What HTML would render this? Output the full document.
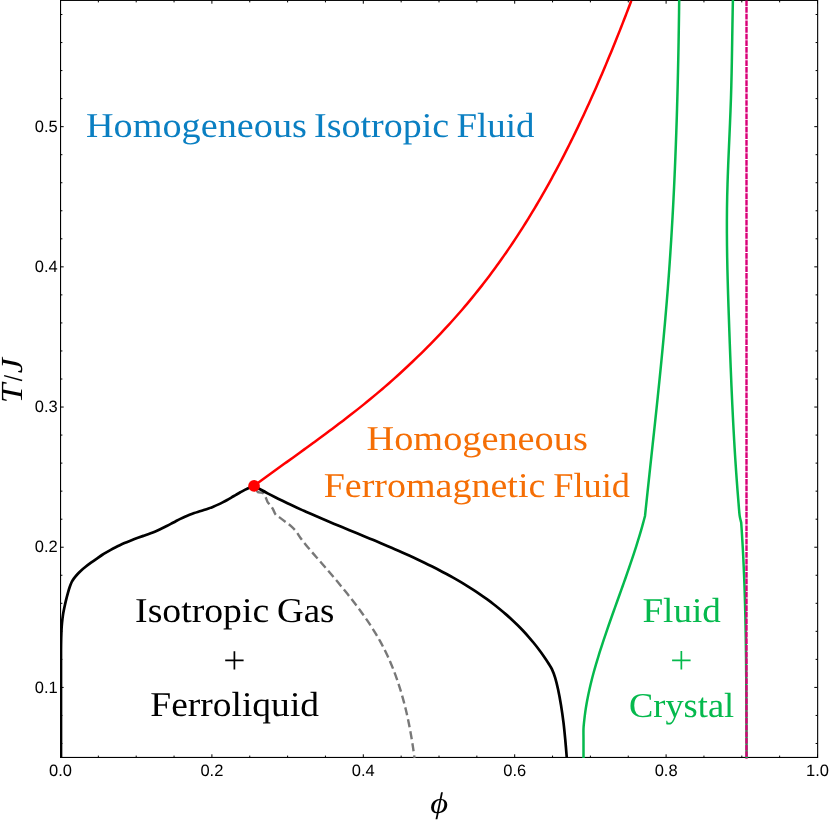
<!DOCTYPE html>
<html><head><meta charset="utf-8"><title>Phase diagram</title>
<style>
html,body{margin:0;padding:0;background:#fff;}
body{width:830px;height:822px;overflow:hidden;font-family:"Liberation Sans",sans-serif;}
svg{display:block;will-change:transform;text-rendering:geometricPrecision;}
</style></head><body>
<svg width="830" height="822" viewBox="0 0 830 822">
<rect width="830" height="822" fill="#fff"/>
<defs><clipPath id="cp"><rect x="60" y="0" width="758.6" height="758.7"/></clipPath></defs>
<g stroke="#000" stroke-width="1" fill="none" shape-rendering="auto">
<rect x="60.55" y="0.4" width="757.1" height="757.05" stroke-width="1.1"/>
<path d="M60.50,757.5v-3.2M60.50,0.5v3.2M98.35,757.5v-1.9M98.35,0.5v1.9M136.20,757.5v-1.9M136.20,0.5v1.9M174.05,757.5v-1.9M174.05,0.5v1.9M211.90,757.5v-3.2M211.90,0.5v3.2M249.75,757.5v-1.9M249.75,0.5v1.9M287.60,757.5v-1.9M287.60,0.5v1.9M325.45,757.5v-1.9M325.45,0.5v1.9M363.30,757.5v-3.2M363.30,0.5v3.2M401.15,757.5v-1.9M401.15,0.5v1.9M439.00,757.5v-1.9M439.00,0.5v1.9M476.85,757.5v-1.9M476.85,0.5v1.9M514.70,757.5v-3.2M514.70,0.5v3.2M552.55,757.5v-1.9M552.55,0.5v1.9M590.40,757.5v-1.9M590.40,0.5v1.9M628.25,757.5v-1.9M628.25,0.5v1.9M666.10,757.5v-3.2M666.10,0.5v3.2M703.95,757.5v-1.9M703.95,0.5v1.9M741.80,757.5v-1.9M741.80,0.5v1.9M779.65,757.5v-1.9M779.65,0.5v1.9M817.50,757.5v-3.2M817.50,0.5v3.2M60.5,743.48h1.9M817.5,743.48h-1.9M60.5,715.44h1.9M817.5,715.44h-1.9M60.5,687.41h3.2M817.5,687.41h-3.2M60.5,659.37h1.9M817.5,659.37h-1.9M60.5,631.33h1.9M817.5,631.33h-1.9M60.5,603.30h1.9M817.5,603.30h-1.9M60.5,575.26h1.9M817.5,575.26h-1.9M60.5,547.22h3.2M817.5,547.22h-3.2M60.5,519.19h1.9M817.5,519.19h-1.9M60.5,491.15h1.9M817.5,491.15h-1.9M60.5,463.11h1.9M817.5,463.11h-1.9M60.5,435.07h1.9M817.5,435.07h-1.9M60.5,407.04h3.2M817.5,407.04h-3.2M60.5,379.00h1.9M817.5,379.00h-1.9M60.5,350.96h1.9M817.5,350.96h-1.9M60.5,322.93h1.9M817.5,322.93h-1.9M60.5,294.89h1.9M817.5,294.89h-1.9M60.5,266.85h3.2M817.5,266.85h-3.2M60.5,238.81h1.9M817.5,238.81h-1.9M60.5,210.78h1.9M817.5,210.78h-1.9M60.5,182.74h1.9M817.5,182.74h-1.9M60.5,154.70h1.9M817.5,154.70h-1.9M60.5,126.67h3.2M817.5,126.67h-3.2M60.5,98.63h1.9M817.5,98.63h-1.9M60.5,70.59h1.9M817.5,70.59h-1.9M60.5,42.56h1.9M817.5,42.56h-1.9M60.5,14.52h1.9M817.5,14.52h-1.9"/>
</g>
<g fill="none" stroke-linejoin="round" clip-path="url(#cp)">
<path d="M254.05,485.90C254.62,486.85 256.51,490.50 257.50,491.60C258.49,492.70 259.18,492.28 260.00,492.50C260.82,492.72 261.68,492.62 262.40,492.90C263.12,493.18 263.77,493.52 264.30,494.20C264.83,494.88 265.22,496.10 265.60,497.00C265.98,497.90 266.23,498.72 266.60,499.60C266.97,500.48 267.12,501.28 267.80,502.30C268.48,503.32 269.80,504.48 270.70,505.70C271.60,506.92 272.38,508.13 273.20,509.60C274.02,511.07 274.55,513.20 275.60,514.50C276.65,515.80 277.88,516.18 279.50,517.40C281.12,518.62 283.47,520.43 285.30,521.80C287.13,523.17 288.70,524.00 290.50,525.60C292.30,527.20 294.46,529.38 296.10,531.40C297.74,533.42 298.83,535.60 300.33,537.70C301.84,539.79 303.47,541.88 305.14,543.97C306.80,546.06 308.57,548.14 310.34,550.22C312.11,552.31 313.95,554.39 315.77,556.47C317.59,558.55 319.43,560.64 321.25,562.72C323.07,564.81 324.88,566.89 326.68,568.98C328.48,571.08 330.27,573.17 332.05,575.27C333.83,577.37 335.60,579.47 337.36,581.58C339.12,583.70 340.86,585.81 342.60,587.94C344.34,590.07 346.06,592.20 347.77,594.35C349.48,596.49 351.18,598.65 352.86,600.81C354.54,602.98 356.21,605.16 357.85,607.35C359.48,609.54 361.10,611.75 362.69,613.96C364.28,616.18 365.85,618.42 367.38,620.67C368.91,622.92 370.42,625.19 371.88,627.47C373.35,629.76 374.78,632.06 376.17,634.38C377.56,636.70 378.91,639.05 380.22,641.41C381.53,643.77 382.79,646.16 384.01,648.56C385.23,650.97 386.40,653.39 387.53,655.84C388.66,658.28 389.75,660.75 390.80,663.23C391.86,665.71 392.86,668.21 393.84,670.73C394.81,673.24 395.74,675.78 396.64,678.33C397.54,680.87 398.40,683.44 399.23,686.01C400.05,688.59 400.84,691.18 401.60,693.79C402.36,696.39 403.09,699.01 403.79,701.63C404.48,704.26 405.15,706.90 405.78,709.55C406.42,712.20 407.03,714.85 407.61,717.52C408.19,720.19 408.74,722.86 409.27,725.55C409.79,728.23 410.30,730.92 410.77,733.61C411.25,736.31 411.71,739.01 412.14,741.72C412.58,744.42 412.99,747.14 413.38,749.85C413.77,752.56 414.31,756.64 414.50,758.00" stroke="#787878" stroke-width="2.4" stroke-dasharray="8.2 4" stroke-dashoffset="7.0"/>
<path d="M583.50,758.00C583.50,755.00 583.50,744.87 583.50,740.00C583.50,735.13 583.38,732.04 583.50,728.80C583.62,725.56 583.93,723.31 584.22,720.58C584.51,717.84 584.84,715.12 585.22,712.41C585.60,709.69 586.03,706.99 586.49,704.29C586.95,701.60 587.46,698.91 588.00,696.23C588.54,693.55 589.12,690.87 589.72,688.21C590.33,685.54 590.97,682.88 591.64,680.23C592.31,677.58 593.01,674.93 593.73,672.29C594.46,669.65 595.21,667.02 595.98,664.39C596.74,661.76 597.54,659.14 598.34,656.52C599.15,653.90 599.98,651.28 600.82,648.67C601.65,646.06 602.51,643.46 603.37,640.85C604.24,638.25 605.11,635.65 606.00,633.05C606.88,630.45 607.78,627.86 608.68,625.27C609.58,622.67 610.49,620.09 611.41,617.50C612.32,614.91 613.24,612.32 614.17,609.74C615.09,607.15 616.02,604.56 616.94,601.98C617.87,599.39 618.80,596.81 619.73,594.23C620.65,591.64 621.58,589.06 622.50,586.47C623.42,583.88 624.34,581.30 625.26,578.71C626.17,576.12 627.08,573.53 627.98,570.94C628.88,568.35 629.77,565.76 630.65,563.16C631.53,560.56 632.41,557.96 633.27,555.36C634.13,552.76 634.98,550.15 635.81,547.54C636.64,544.93 637.46,542.32 638.27,539.70C639.07,537.08 639.86,534.46 640.63,531.83C641.39,529.21 642.15,526.57 642.88,523.93C643.60,521.29 644.65,517.32 645.00,516.00C645.21,514.01 645.84,508.03 646.26,504.04C646.68,500.06 647.11,496.07 647.53,492.09C647.96,488.10 648.39,484.11 648.82,480.13C649.25,476.14 649.68,472.15 650.11,468.16C650.54,464.18 650.97,460.19 651.41,456.20C651.84,452.21 652.27,448.22 652.70,444.23C653.13,440.24 653.56,436.26 653.99,432.27C654.42,428.28 654.85,424.29 655.28,420.30C655.70,416.30 656.13,412.31 656.55,408.32C656.97,404.33 657.39,400.34 657.81,396.35C658.22,392.36 658.63,388.36 659.04,384.37C659.45,380.38 659.86,376.39 660.26,372.39C660.66,368.40 661.06,364.41 661.45,360.41C661.84,356.42 662.23,352.42 662.61,348.43C662.99,344.43 663.36,340.44 663.73,336.44C664.10,332.45 664.46,328.45 664.82,324.46C665.17,320.46 665.52,316.47 665.86,312.47C666.20,308.47 666.54,304.47 666.86,300.48C667.19,296.48 667.51,292.48 667.82,288.48C668.13,284.49 668.43,280.49 668.72,276.49C669.01,272.49 669.30,268.49 669.58,264.49C669.86,260.49 670.13,256.49 670.39,252.49C670.65,248.49 670.91,244.49 671.16,240.49C671.41,236.49 671.65,232.49 671.88,228.49C672.12,224.48 672.35,220.48 672.57,216.48C672.79,212.48 673.00,208.47 673.21,204.47C673.42,200.47 673.62,196.46 673.81,192.46C674.01,188.46 674.20,184.45 674.38,180.45C674.56,176.44 674.74,172.44 674.91,168.43C675.08,164.43 675.24,160.42 675.40,156.42C675.56,152.41 675.72,148.40 675.86,144.40C676.01,140.39 676.15,136.38 676.29,132.38C676.43,128.37 676.56,124.36 676.69,120.35C676.81,116.35 676.94,112.34 677.05,108.33C677.17,104.32 677.28,100.31 677.39,96.30C677.50,92.29 677.60,88.28 677.70,84.27C677.80,80.26 677.89,76.25 677.98,72.24C678.07,68.23 678.16,64.22 678.24,60.20C678.32,56.19 678.40,52.18 678.48,48.17C678.55,44.16 678.62,40.14 678.69,36.13C678.75,32.12 678.82,28.10 678.88,24.09C678.94,20.07 678.99,16.06 679.05,12.05C679.10,8.03 679.17,2.01 679.20,-0.00" stroke="#05B94D" stroke-width="2.5"/>
<path d="M746.60,758.00C746.59,756.29 746.56,751.18 746.55,747.76C746.53,744.35 746.52,740.94 746.50,737.53C746.49,734.11 746.48,730.70 746.47,727.29C746.45,723.87 746.44,720.46 746.43,717.05C746.41,713.64 746.40,710.22 746.38,706.81C746.37,703.40 746.35,699.98 746.34,696.57C746.32,693.15 746.30,689.74 746.28,686.33C746.26,682.91 746.23,679.50 746.21,676.09C746.18,672.67 746.15,669.26 746.12,665.85C746.09,662.43 746.05,659.02 746.01,655.61C745.97,652.19 745.93,648.78 745.88,645.37C745.83,641.95 745.78,638.54 745.72,635.13C745.66,631.71 745.60,628.30 745.53,624.89C745.46,621.48 745.39,618.06 745.31,614.65C745.23,611.24 745.14,607.83 745.05,604.42C744.95,601.00 744.85,597.59 744.74,594.18C744.64,590.77 744.52,587.36 744.40,583.95C744.28,580.54 744.15,577.13 744.01,573.72C743.87,570.31 743.72,566.90 743.56,563.49C743.40,560.08 743.24,556.67 743.06,553.26C742.88,549.85 742.70,546.45 742.50,543.04C742.31,539.63 742.10,536.22 741.88,532.82C741.67,529.41 741.31,524.30 741.20,522.60C740.93,521.38 740.04,518.56 739.60,515.30C739.16,512.04 738.88,507.14 738.54,503.06C738.20,498.97 737.87,494.89 737.55,490.81C737.23,486.73 736.93,482.64 736.63,478.56C736.34,474.48 736.05,470.39 735.78,466.31C735.50,462.23 735.24,458.14 734.98,454.06C734.73,449.97 734.48,445.89 734.25,441.80C734.01,437.72 733.78,433.63 733.56,429.54C733.34,425.46 733.12,421.37 732.92,417.29C732.71,413.20 732.51,409.11 732.32,405.02C732.12,400.94 731.94,396.85 731.76,392.76C731.57,388.67 731.40,384.59 731.23,380.50C731.06,376.41 730.89,372.32 730.73,368.23C730.56,364.14 730.41,360.05 730.25,355.97C730.09,351.88 729.94,347.79 729.79,343.70C729.64,339.61 729.50,335.52 729.35,331.43C729.20,327.34 729.06,323.25 728.92,319.16C728.78,315.07 728.63,310.98 728.50,306.89C728.36,302.79 728.23,298.70 728.10,294.61C727.98,290.52 727.86,286.43 727.75,282.34C727.63,278.25 727.53,274.16 727.43,270.06C727.34,265.97 727.25,261.88 727.18,257.79C727.11,253.70 727.04,249.61 727.00,245.51C726.95,241.42 726.91,237.33 726.90,233.24C726.88,229.14 726.87,225.05 726.89,220.96C726.90,216.87 726.93,212.78 726.98,208.68C727.03,204.59 727.10,200.50 727.19,196.41C727.28,192.31 727.40,188.22 727.52,184.13C727.64,180.04 727.79,175.94 727.94,171.85C728.09,167.76 728.25,163.66 728.42,159.57C728.59,155.48 728.77,151.39 728.95,147.29C729.12,143.20 729.31,139.11 729.49,135.02C729.67,130.92 729.85,126.83 730.02,122.74C730.19,118.65 730.36,114.56 730.51,110.46C730.67,106.37 730.82,102.28 730.95,98.19C731.08,94.09 731.20,90.00 731.31,85.91C731.41,81.82 731.51,77.73 731.60,73.63C731.69,69.54 731.77,65.45 731.85,61.36C731.92,57.27 731.99,53.18 732.06,49.09C732.13,45.00 732.19,40.90 732.25,36.81C732.32,32.72 732.38,28.63 732.45,24.54C732.52,20.45 732.58,16.36 732.66,12.27C732.73,8.18 732.86,2.04 732.90,0.00" stroke="#05B94D" stroke-width="2.5"/>
<path d="M746.5,0V759" stroke="#D90078" stroke-width="2.4" stroke-dasharray="5.745 0.9" stroke-dashoffset="-0.45"/>
<path d="M61.00,758.00C61.00,751.67 61.00,731.33 61.00,720.00C61.00,708.67 61.00,700.00 61.00,690.00C61.00,680.00 60.99,667.50 61.00,660.00C61.01,652.50 60.98,649.73 61.05,645.00C61.12,640.27 61.24,635.28 61.40,631.60C61.56,627.92 61.72,625.82 62.00,622.90C62.28,619.98 62.67,616.83 63.10,614.10C63.53,611.37 64.10,608.87 64.60,606.50C65.10,604.13 65.57,602.10 66.10,599.90C66.63,597.70 67.18,595.48 67.80,593.30C68.42,591.12 69.15,588.68 69.80,586.80C70.45,584.92 71.03,583.37 71.70,582.00C72.37,580.63 73.03,579.68 73.80,578.60C74.57,577.52 75.20,576.73 76.30,575.50C77.40,574.27 78.85,572.65 80.40,571.20C81.95,569.75 83.83,568.22 85.60,566.80C87.37,565.38 89.18,564.03 91.00,562.70C92.82,561.37 94.67,560.08 96.50,558.80C98.33,557.52 100.36,556.08 102.00,555.00C103.64,553.92 104.86,553.20 106.31,552.33C107.77,551.47 109.24,550.63 110.73,549.81C112.22,549.00 113.72,548.20 115.24,547.44C116.75,546.67 118.28,545.92 119.82,545.20C121.36,544.48 122.91,543.78 124.47,543.11C126.02,542.43 127.59,541.78 129.16,541.15C130.73,540.52 132.30,539.91 133.88,539.32C135.46,538.72 137.04,538.15 138.62,537.58C140.21,537.01 141.79,536.45 143.37,535.89C144.95,535.32 146.53,534.76 148.11,534.17C149.69,533.59 151.26,533.00 152.82,532.38C154.39,531.76 155.95,531.13 157.50,530.45C159.05,529.78 160.59,529.07 162.13,528.34C163.66,527.60 165.18,526.83 166.70,526.05C168.22,525.26 169.74,524.45 171.25,523.65C172.76,522.85 174.27,522.03 175.79,521.24C177.30,520.45 178.81,519.65 180.33,518.89C181.86,518.13 183.38,517.39 184.91,516.69C186.45,515.99 187.99,515.32 189.54,514.71C191.10,514.10 192.67,513.55 194.24,513.02C195.81,512.48 197.40,512.01 198.99,511.51C200.58,511.02 202.17,510.56 203.76,510.05C205.36,509.54 206.95,509.03 208.54,508.47C210.13,507.90 211.72,507.30 213.30,506.66C214.87,506.02 216.44,505.34 218.00,504.62C219.56,503.91 221.10,503.16 222.63,502.38C224.16,501.61 225.67,500.80 227.16,499.97C228.65,499.14 230.12,498.27 231.59,497.41C233.06,496.55 234.50,495.66 235.96,494.80C237.42,493.94 238.87,493.08 240.34,492.25C241.81,491.43 243.27,490.61 244.77,489.85C246.27,489.09 247.78,488.36 249.32,487.70C250.87,487.04 253.26,486.20 254.05,485.90" stroke="#000" stroke-width="2.7"/>
<path d="M254.05,485.90C255.21,486.55 258.69,488.52 261.03,489.80C263.37,491.08 265.73,492.34 268.10,493.58C270.47,494.82 272.85,496.04 275.24,497.25C277.64,498.46 280.04,499.65 282.46,500.83C284.87,502.01 287.30,503.17 289.73,504.32C292.17,505.47 294.62,506.61 297.07,507.73C299.52,508.86 301.99,509.97 304.46,511.07C306.93,512.18 309.41,513.27 311.89,514.35C314.37,515.44 316.87,516.51 319.36,517.58C321.86,518.65 324.36,519.71 326.87,520.77C329.37,521.83 331.88,522.88 334.39,523.93C336.91,524.98 339.42,526.02 341.94,527.06C344.46,528.10 346.98,529.14 349.51,530.18C352.03,531.22 354.55,532.26 357.07,533.30C359.60,534.34 362.12,535.38 364.64,536.42C367.17,537.46 369.69,538.50 372.21,539.55C374.73,540.60 377.24,541.65 379.76,542.71C382.27,543.77 384.78,544.83 387.29,545.90C389.80,546.97 392.30,548.05 394.80,549.14C397.29,550.22 399.79,551.32 402.27,552.42C404.76,553.53 407.24,554.64 409.71,555.77C412.18,556.90 414.65,558.03 417.10,559.19C419.56,560.34 422.01,561.50 424.44,562.68C426.88,563.86 429.31,565.05 431.73,566.27C434.14,567.48 436.55,568.70 438.94,569.95C441.34,571.19 443.72,572.45 446.09,573.74C448.45,575.02 450.81,576.32 453.15,577.64C455.48,578.96 457.81,580.30 460.11,581.67C462.42,583.03 464.71,584.42 466.99,585.83C469.26,587.24 471.51,588.68 473.75,590.14C475.99,591.60 478.20,593.08 480.40,594.59C482.60,596.10 484.77,597.64 486.93,599.21C489.08,600.78 491.22,602.37 493.33,604.00C495.44,605.62 497.52,607.28 499.59,608.96C501.65,610.65 503.69,612.37 505.70,614.12C507.71,615.87 509.70,617.65 511.66,619.47C513.62,621.29 515.55,623.14 517.46,625.03C519.36,626.91 521.24,628.84 523.09,630.80C524.93,632.76 526.75,634.76 528.54,636.79C530.32,638.83 532.08,640.91 533.80,643.02C535.52,645.14 537.22,647.30 538.87,649.49C540.53,651.69 542.15,653.93 543.74,656.22C545.33,658.50 547.04,661.05 548.40,663.20C549.76,665.35 550.77,666.67 551.90,669.10C553.03,671.53 554.17,674.40 555.20,677.80C556.23,681.20 557.13,684.95 558.10,689.50C559.07,694.05 560.10,699.58 561.00,705.10C561.90,710.62 562.78,716.77 563.50,722.60C564.22,728.43 564.75,734.20 565.30,740.10C565.85,746.00 566.55,755.02 566.80,758.00" stroke="#000" stroke-width="2.7"/>
<path d="M254.05,485.90C255.13,485.10 258.38,482.70 260.56,481.10C262.73,479.51 264.90,477.92 267.07,476.33C269.25,474.74 271.42,473.16 273.60,471.58C275.77,470.00 277.95,468.42 280.13,466.85C282.31,465.27 284.48,463.70 286.66,462.13C288.84,460.55 291.02,458.98 293.19,457.41C295.37,455.84 297.54,454.27 299.71,452.70C301.89,451.12 304.06,449.55 306.23,447.97C308.40,446.40 310.57,444.82 312.73,443.24C314.89,441.66 317.06,440.08 319.21,438.50C321.37,436.91 323.53,435.32 325.68,433.73C327.83,432.13 329.98,430.54 332.12,428.93C334.26,427.33 336.40,425.72 338.53,424.10C340.66,422.49 342.79,420.87 344.91,419.24C347.04,417.61 349.15,415.97 351.26,414.33C353.37,412.68 355.48,411.03 357.57,409.37C359.67,407.71 361.76,406.04 363.84,404.36C365.92,402.68 368.00,400.99 370.06,399.28C372.13,397.58 374.19,395.87 376.24,394.15C378.29,392.43 380.33,390.70 382.36,388.95C384.40,387.21 386.42,385.46 388.44,383.69C390.45,381.93 392.46,380.16 394.46,378.37C396.46,376.59 398.45,374.79 400.43,372.99C402.41,371.18 404.38,369.37 406.34,367.54C408.30,365.72 410.25,363.88 412.20,362.03C414.14,360.19 416.07,358.33 417.99,356.46C419.92,354.60 421.83,352.72 423.73,350.83C425.63,348.95 427.53,347.05 429.41,345.14C431.29,343.23 433.16,341.31 435.02,339.39C436.88,337.46 438.73,335.52 440.57,333.57C442.41,331.62 444.24,329.66 446.05,327.69C447.87,325.72 449.67,323.75 451.47,321.76C453.26,319.77 455.04,317.77 456.81,315.76C458.58,313.75 460.34,311.73 462.09,309.70C463.83,307.67 465.57,305.62 467.29,303.57C469.01,301.52 470.72,299.46 472.42,297.39C474.11,295.32 475.80,293.24 477.47,291.15C479.14,289.06 480.80,286.96 482.45,284.85C484.09,282.73 485.73,280.61 487.35,278.48C488.97,276.35 490.58,274.21 492.17,272.06C493.77,269.91 495.35,267.75 496.92,265.58C498.49,263.41 500.05,261.24 501.60,259.05C503.15,256.86 504.68,254.67 506.20,252.46C507.73,250.26 509.24,248.05 510.74,245.83C512.24,243.61 513.73,241.38 515.20,239.14C516.68,236.90 518.15,234.66 519.60,232.40C521.05,230.15 522.50,227.89 523.93,225.62C525.36,223.35 526.78,221.08 528.19,218.79C529.60,216.51 531.00,214.22 532.39,211.92C533.78,209.62 535.16,207.32 536.53,205.01C537.89,202.69 539.25,200.38 540.60,198.05C541.94,195.73 543.28,193.39 544.61,191.06C545.94,188.72 547.25,186.38 548.56,184.03C549.87,181.68 551.16,179.32 552.45,176.96C553.74,174.60 555.02,172.23 556.29,169.86C557.56,167.49 558.81,165.11 560.06,162.73C561.31,160.34 562.56,157.96 563.79,155.56C565.02,153.17 566.24,150.77 567.46,148.37C568.67,145.97 569.88,143.56 571.07,141.15C572.27,138.74 573.46,136.32 574.64,133.90C575.82,131.48 576.99,129.06 578.15,126.63C579.31,124.20 580.47,121.77 581.61,119.33C582.76,116.90 583.90,114.46 585.03,112.02C586.16,109.58 587.28,107.13 588.40,104.68C589.51,102.23 590.62,99.78 591.72,97.33C592.82,94.87 593.92,92.42 595.00,89.96C596.09,87.50 597.16,85.04 598.24,82.57C599.31,80.11 600.37,77.64 601.43,75.17C602.49,72.70 603.54,70.23 604.58,67.76C605.63,65.29 606.66,62.82 607.69,60.34C608.72,57.87 609.75,55.39 610.77,52.91C611.79,50.43 612.80,47.96 613.80,45.48C614.81,43.00 615.81,40.52 616.80,38.03C617.80,35.55 618.79,33.07 619.77,30.59C620.75,28.11 621.73,25.62 622.70,23.14C623.67,20.66 624.64,18.17 625.60,15.69C626.56,13.21 627.51,10.73 628.46,8.24C629.41,5.76 630.83,2.04 631.30,0.80" stroke="#FF0000" stroke-width="2.5"/>
</g>
<circle cx="254.05" cy="485.9" r="5.85" fill="#FF0000"/>
<g font-family="Liberation Sans, sans-serif" font-size="16.5" fill="#000">
<text x="60.5" y="776.2" text-anchor="middle">0.0</text>
<text x="211.9" y="776.2" text-anchor="middle">0.2</text>
<text x="363.3" y="776.2" text-anchor="middle">0.4</text>
<text x="514.7" y="776.2" text-anchor="middle">0.6</text>
<text x="666.1" y="776.2" text-anchor="middle">0.8</text>
<text x="817.5" y="776.2" text-anchor="middle">1.0</text>
<text x="57.8" y="692.5" text-anchor="end">0.1</text>
<text x="57.8" y="552.3" text-anchor="end">0.2</text>
<text x="57.8" y="412.1" text-anchor="end">0.3</text>
<text x="57.8" y="272.0" text-anchor="end">0.4</text>
<text x="57.8" y="131.8" text-anchor="end">0.5</text>
</g>
<g font-family="Liberation Serif, serif" font-size="34.8">
<text x="85.99" y="136.7" textLength="220.94" lengthAdjust="spacingAndGlyphs" fill="#0A7FC2">Homogeneous</text>
<text x="314.0" y="136.7" textLength="135.2" lengthAdjust="spacingAndGlyphs" fill="#0A7FC2">Isotropic</text>
<text x="456.55" y="136.7" textLength="77.86" lengthAdjust="spacingAndGlyphs" fill="#0A7FC2">Fluid</text>
<text x="366.56" y="449.9" textLength="221.3" lengthAdjust="spacingAndGlyphs" fill="#F56E05">Homogeneous</text>
<text x="323.68" y="496.8" textLength="221.67" lengthAdjust="spacingAndGlyphs" fill="#F56E05">Ferromagnetic</text>
<text x="553.2" y="496.8" textLength="76.7" lengthAdjust="spacingAndGlyphs" fill="#F56E05">Fluid</text>
<text x="135.08" y="621.8" textLength="134.12" lengthAdjust="spacingAndGlyphs" fill="#000">Isotropic</text>
<text x="277.14" y="621.8" textLength="57.3" lengthAdjust="spacingAndGlyphs" fill="#000">Gas</text>
<text x="150.28" y="716.4" textLength="168.8" lengthAdjust="spacingAndGlyphs" fill="#000">Ferroliquid</text>
<text x="642.48" y="621.9" textLength="78.45" lengthAdjust="spacingAndGlyphs" fill="#05B94D">Fluid</text>
<text x="629.0" y="716.8" textLength="105.2" lengthAdjust="spacingAndGlyphs" fill="#05B94D">Crystal</text>
</g>
<path d="M225.2,660.3H243.6M234.4,651.2V669.5" stroke="#000" stroke-width="1.7" fill="none"/>
<path d="M672.1,660.3H690.6M681.35,651.1V669.6" stroke="#05B94D" stroke-width="1.7" fill="none"/>
<g font-family="Liberation Serif, serif" font-style="italic" fill="#000">
<g transform="translate(21.8,400.9) rotate(-90)" font-size="30.7">
<text x="-2.3" y="0" textLength="19.6" lengthAdjust="spacingAndGlyphs">T</text>
<path d="M20.4,0.3L25.3,-17.7" stroke="#000" stroke-width="1.45" fill="none"/>
<text x="27.6" y="0" textLength="15.23" lengthAdjust="spacingAndGlyphs">J</text>
</g>
<text x="430.2" y="812.5" font-size="29.8" textLength="17.85" lengthAdjust="spacingAndGlyphs">&#x3d5;</text>
</g>
</svg>
</body></html>
